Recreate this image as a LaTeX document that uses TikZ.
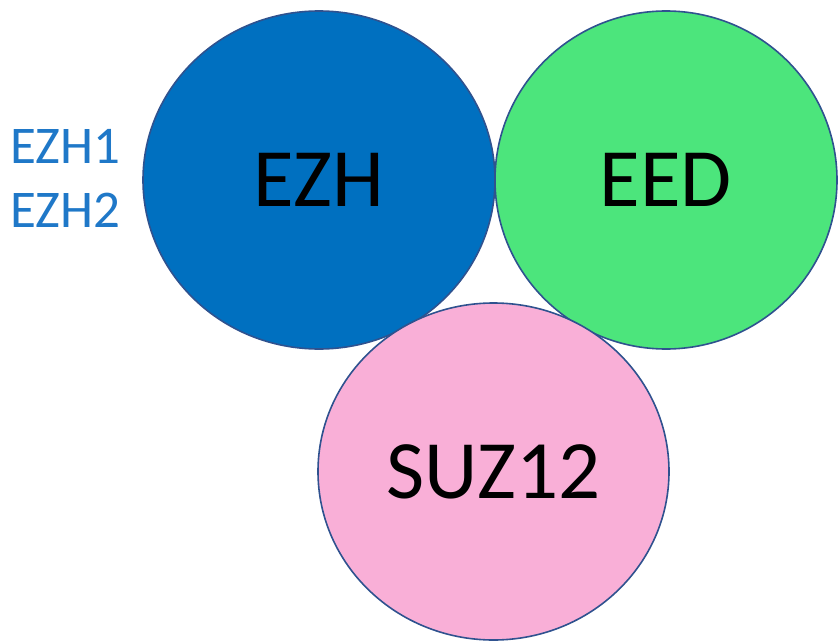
\documentclass[tikz,border=0pt]{standalone}
\usepackage{fontspec}
\setmainfont{Carlito}
\usetikzlibrary{shapes.geometric}
\definecolor{ezhblue}{HTML}{0070C0}
\definecolor{eedgreen}{HTML}{4CE57C}
\definecolor{suzpink}{HTML}{F9AFD7}
\definecolor{edge}{HTML}{2F528F}
\definecolor{labelblue}{HTML}{1F78C8}
\tikzset{
  blob/.style={ellipse, draw=edge, line width=1.6pt, inner sep=0pt,
    font=\fontsize{83}{90}\selectfont, text=black},
  sidelabel/.style={anchor=base west, inner sep=0pt, text=labelblue,
    font=\fontsize{53}{60}\selectfont}
}
\begin{document}
\begin{tikzpicture}[x=1pt,y=-1pt]
\useasboundingbox (0,0) rectangle (838,642);
\node[blob, fill=ezhblue, minimum width=352pt, minimum height=338pt] (ezh) at (319,180) {EZH};
\node[blob, fill=eedgreen, minimum width=342pt, minimum height=338pt] (eed) at (666,180) {EED};
\node[blob, fill=suzpink, minimum width=351pt, minimum height=337pt] (suz) at (493.5,471.5) {SUZ12};
\node[sidelabel] (ezh1) at (10,163) {EZH1};
\node[sidelabel] (ezh2) at (10,227) {EZH2};
\end{tikzpicture}
\end{document}
